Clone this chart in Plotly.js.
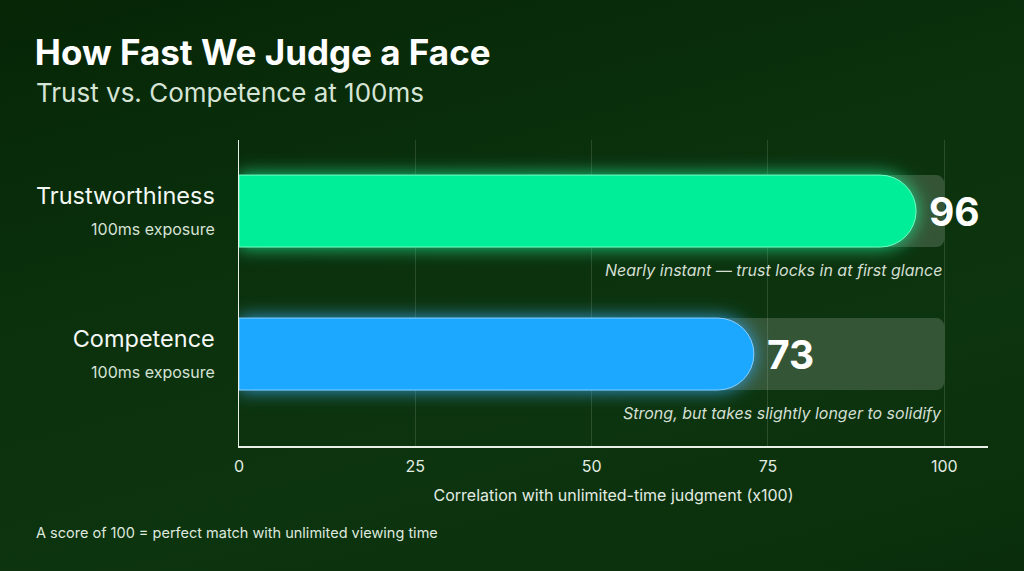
<!DOCTYPE html>
<html><head><meta charset="utf-8">
<script src="https://cdn.plot.ly/plotly-3.0.1.min.js"></script>
<style>
html,body{margin:0;padding:0;width:1024px;height:571px;overflow:hidden;
background:linear-gradient(165deg,#062606 0%,#0b320d 45%,#0c340e 70%,#0a2e0b 100%);}
#chart{width:1024px;height:571px;}
</style></head>
<body><div id="chart"></div>
<script>
const categories = ['Trustworthiness','Competence'];
const subLabels = ['100ms exposure','100ms exposure'];
const values = [96, 73];
const maxScore = [100, 100];
const notes = ['Nearly instant — trust locks in at first glance','Strong, but takes slightly longer to solidify'];
const barColors = ['#00ee98','#1aa8ff'];
const edgeColors = ['#6cffc2','#86d0ff'];
const xTicks = [0,25,50,75,100];

const FONT = 'Inter, "Noto Sans", sans-serif';
const W = 0.503;
const catOrder = ['Competence','Trustworthiness'];
const yRange = [-0.643,1.497];

const traces = [
  // background track (own subplot so its corner radius is independent)
  {type:'bar',orientation:'h',x:maxScore,y:categories,width:W,yaxis:'y',
   marker:{color:'rgba(255,255,255,0.17)',cornerradius:8,line:{width:0}},hoverinfo:'skip',showlegend:false},
  // main bars
  {type:'bar',orientation:'h',x:values,y:categories,width:W,yaxis:'y2',
   marker:{color:barColors,cornerradius:36,line:{color:edgeColors,width:1}},hoverinfo:'x',showlegend:false}
];

const annotations = [];
categories.forEach((c,i)=>{
  annotations.push({x:values[i],y:c,xref:'x',yref:'y',text:'<b>'+values[i]+'</b>',showarrow:false,
    xanchor:'left',xshift:11,font:{family:FONT,size:39,color:'#ffffff'}});
  annotations.push({x:maxScore[i],y:c,xref:'x',yref:'y',text:'<i>'+notes[i]+'</i>',showarrow:false,
    xanchor:'right',xshift:0,yshift:-59,font:{family:FONT,size:16,color:'#d3dfd3'}});
});
annotations.push({xref:'paper',yref:'paper',x:-0.2737,y:1.1536,xanchor:'left',yanchor:'middle',showarrow:false,
  text:'Trust vs. Competence at 100ms',font:{family:FONT,size:26,color:'#d6e4d6'}});
annotations.push({xref:'paper',yref:'paper',x:-0.2737,y:-0.284,xanchor:'left',yanchor:'middle',showarrow:false,
  text:'A score of 100 = perfect match with unlimited viewing time',font:{family:FONT,size:14.5,color:'#dfe8df'}});

const ticktext = categories.map((c,i)=>c+'<br><span style="font-size:16px;color:#d6e2d6">'+subLabels[i]+'</span>');

const layout = {
  width:1024,height:571,
  paper_bgcolor:'rgba(0,0,0,0)',plot_bgcolor:'rgba(0,0,0,0)',
  margin:{l:239,r:36,t:140,b:125},
  barmode:'overlay',
  title:{text:'<b>How Fast We Judge a Face</b>',xref:'container',yref:'container',x:0.034,xanchor:'left',
    y:1-53/571,yanchor:'middle',font:{family:FONT,size:35,color:'#ffffff'}},
  xaxis:{range:[0,106.2],tickvals:xTicks,ticktext:xTicks.map(String),showgrid:true,
    gridcolor:'rgba(255,255,255,0.13)',gridwidth:1,zeroline:false,showline:true,linecolor:'#e8f0e8',linewidth:1.5,
    ticks:'',ticklabelstandoff:5,tickfont:{family:FONT,size:16,color:'#e3ece3'},
    title:{text:'Correlation with unlimited-time judgment (x100)',standoff:15,font:{family:FONT,size:16,color:'#e3ece3'}}},
  yaxis:{type:'category',categoryarray:catOrder,range:yRange,
    tickvals:categories,ticktext:ticktext,showgrid:false,zeroline:false,showline:true,linecolor:'#e8f0e8',linewidth:1.5,
    ticks:'',ticklabelstandoff:18,tickfont:{family:FONT,size:23.5,color:'#f4f8f4'}},
  yaxis2:{type:'category',categoryarray:catOrder,range:yRange,overlaying:'y',visible:false,
    showgrid:false,zeroline:false,showticklabels:false},
  annotations:annotations,
  font:{family:FONT}
};
Plotly.newPlot('chart',traces,layout,{displayModeBar:false,staticPlot:true}).then(()=>{
  const NS='http://www.w3.org/2000/svg';
  const svg=document.querySelector('#chart .main-svg');
  let defs=svg.querySelector('defs');
  if(!defs){defs=document.createElementNS(NS,'defs');svg.insertBefore(defs,svg.firstChild);}
  const f=document.createElementNS(NS,'filter');
  f.setAttribute('id','barglow');
  f.setAttribute('x','-10%');f.setAttribute('y','-60%');f.setAttribute('width','120%');f.setAttribute('height','220%');
  f.innerHTML='<feGaussianBlur in="SourceGraphic" stdDeviation="9" result="b"/>'+
    '<feColorMatrix in="b" type="matrix" values="1 0 0 0 0  0 1 0 0 0  0 0 1 0 0  0 0 0 0.85 0" result="g"/>'+
    '<feMerge><feMergeNode in="g"/><feMergeNode in="SourceGraphic"/></feMerge>';
  defs.appendChild(f);
  const tr=document.querySelectorAll('#chart .barlayer .trace');
  const last=tr[tr.length-1];
  last.querySelectorAll('.point').forEach(p=>p.setAttribute('filter','url(#barglow)'));
});
</script></body></html>
